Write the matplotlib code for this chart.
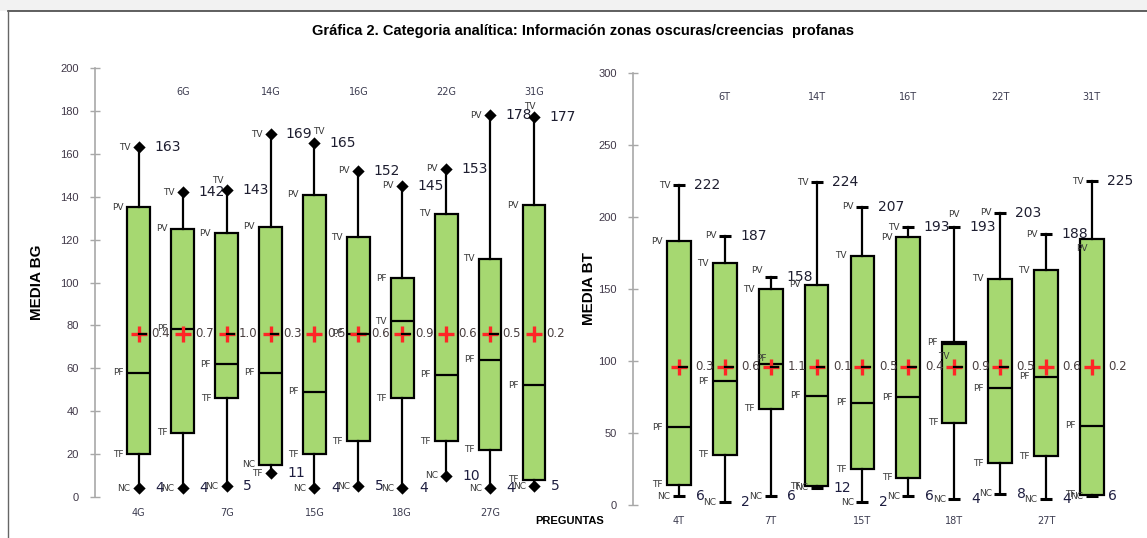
import matplotlib
matplotlib.use('Agg')
import matplotlib.pyplot as plt
from matplotlib.patches import Rectangle
import numpy as np

plt.rcParams['font.family'] = ['Liberation Sans', 'DejaVu Sans']

# ---- data ----
left_cats = ['4G', '6G', '7G', '14G', '15G', '16G', '18G', '22G', '27G', '31G']
left_max = [163, 142, 143, 169, 165, 152, 145, 153, 178, 177]
left_q3 = [135, 125, 123, 126, 141, 121, 102, 132, 111, 136]
left_med = [58, 78.5, 62, 58, 49, 76, 82, 57, 64, 52]
left_q1 = [20, 30, 46, 15, 20, 26, 46, 26, 22, 8]
left_min = [4, 4, 5, 11, 4, 5, 4, 10, 4, 5]
left_mean = [76, 76, 76, 76, 76, 76, 76, 76, 76, 76]
left_ratio = ['0.4', '0.7', '1.0', '0.3', '0.5', '0.6', '0.9', '0.6', '0.5', '0.2']
# tags next to max, q3, median, q1, min
left_tags = [
    ['TV', 'PV', 'PF', 'TF', 'NC'],
    ['TV', 'PV', 'PF', 'TF', 'NC'],
    ['TV', 'PV', 'PF', 'TF', 'NC'],
    ['TV', 'PV', 'PF', 'NC', 'TF'],
    ['TV', 'PV', 'PF', 'TF', 'NC'],
    ['PV', 'TV', 'PF', 'TF', 'NC'],
    ['PV', 'PF', 'TV', 'TF', 'NC'],
    ['PV', 'TV', 'PF', 'TF', 'NC'],
    ['PV', 'TV', 'PF', 'TF', 'NC'],
    ['TV', 'PV', 'PF', 'TF', 'NC'],
]

right_cats = ['4T', '6T', '7T', '14T', '15T', '16T', '18T', '22T', '27T', '31T']
right_max = [222, 187, 158, 224, 207, 193, 193, 203, 188, 225]
right_q3 = [183, 168, 150, 153, 173, 186, 113, 157, 163, 185]
right_med = [54, 86, 98, 76, 71, 75, 112, 81, 89, 55]
right_q1 = [14, 35, 67, 13, 25, 19, 57, 29, 34, 7]
right_min = [6, 2, 6, 12, 2, 6, 4, 8, 4, 6]
right_mean = [96, 96, 96, 96, 96, 96, 96, 96, 96, 96]
right_ratio = ['0.3', '0.6', '1.1', '0.1', '0.5', '0.4', '0.9', '0.5', '0.6', '0.2']
right_tags = [
    ['TV', 'PV', 'PF', 'TF', 'NC'],
    ['PV', 'TV', 'PF', 'TF', 'NC'],
    ['PV', 'TV', 'PF', 'TF', 'NC'],
    ['TV', 'PV', 'PF', 'TF', 'NC'],
    ['PV', 'TV', 'PF', 'TF', 'NC'],
    ['TV', 'PV', 'PF', 'TF', 'NC'],
    ['PV', 'PF', 'TV', 'TF', 'NC'],
    ['PV', 'TV', 'PF', 'TF', 'NC'],
    ['PV', 'TV', 'PF', 'TF', 'NC'],
    ['TV', 'PV', 'PF', 'TF', 'NC'],
]

# layout tweaks for a few tags: (box, stat) -> (dx, dy, ha) in points
left_shift = {(2, 0): (-2, 7, 'right'), (4, 0): (3, 8, 'center'), (9, 0): (-3, 8, 'center')}
right_shift = {(2, 0): (-6, 5, 'right'), (6, 0): (0, 9, 'center'), (6, 2): (-3, -9, 'right'),
               (9, 1): (-3, -7, 'right'), (2, 2): (-3, 4, 'right')}
left_dash = [1, 0, 1, 1, 0, 1, 1, 0, 1, 0]
right_dash = [1, 1, 1, 1, 1, 1, 1, 1, 0, 0]

GREEN = '#a6d871'
TAG = '#3a3a3a'
TICK = '#403848'


def draw_panel(ax, cats, vmax, q3, med, q1, vmin, mean, ratio, tags,
               shift, dash, cap, cap_ms, top_y, val_dx):
    n = len(cats)
    x = np.arange(1, n + 1)
    w = 0.52
    stats = [dict(med=med[i], q1=q1[i], q3=q3[i], whislo=vmin[i], whishi=vmax[i],
                  mean=mean[i], fliers=[]) for i in range(n)]
    ax.bxp(stats, positions=x, widths=w, patch_artist=True, showmeans=True,
           showcaps=False, showfliers=False,
           boxprops=dict(facecolor=GREEN, edgecolor='k', lw=1.6),
           medianprops=dict(color='k', lw=1.6),
           whiskerprops=dict(color='k', lw=1.6),
           meanprops=dict(marker='+', markeredgecolor='#ff2626', markersize=11,
                          markeredgewidth=2.4))
    ax.plot(x, vmax, ls='none', marker=cap, color='k', ms=cap_ms, mew=2.2, zorder=5)
    ax.plot(x, vmin, ls='none', marker=cap, color='k', ms=cap_ms, mew=2.2, zorder=5)
    for i in range(n):
        if dash[i]:
            ax.plot([x[i], x[i] + 0.17], [mean[i], mean[i]], color='k', lw=1.6, zorder=6)
        # max / min numbers
        ax.annotate(str(vmax[i]), (x[i], vmax[i]), xytext=(11, 0), textcoords='offset points',
                    ha='left', va='center', fontsize=10, color='#1e1e30',
                    family=['DejaVu Sans'])
        ax.annotate(str(vmin[i]), (x[i], vmin[i]), xytext=(12, 0), textcoords='offset points',
                    ha='left', va='center', fontsize=10, color='#1e1e40',
                    family=['DejaVu Sans'])
        ax.annotate(ratio[i], (x[i], mean[i]), xytext=(val_dx, 0), textcoords='offset points',
                    ha='left', va='center', fontsize=8.5, color='#4a4040',
                    family=['DejaVu Sans'])
        # letter tags
        vals = [vmax[i], q3[i], med[i], q1[i], vmin[i]]
        for k in range(5):
            if k in (0, 4):
                ax_x, dx = x[i], -6
            else:
                ax_x, dx = x[i] - w / 2, -3
            dy, ha = 0, 'right'
            if (i, k) in shift:
                sdx, dy, ha = shift[(i, k)]
                ax_x, dx = x[i], sdx
            ax.annotate(tags[i][k], (ax_x, vals[k]), xytext=(dx, dy),
                        textcoords='offset points', ha=ha, va='center',
                        fontsize=6.5, color=TAG, family=['DejaVu Sans'])
    # category labels: odd ones below, even ones on top
    ax.set_xticks(x[::2])
    ax.set_xticklabels(cats[::2], fontsize=7, color='#3c3c50', family=['DejaVu Sans'])
    ax.tick_params(axis='x', length=0, pad=8)
    for i in range(1, n, 2):
        ax.text(x[i], top_y, cats[i], ha='center', va='center', fontsize=7,
                color='#3c3c50', family=['DejaVu Sans'])
    for s in ('top', 'right', 'bottom'):
        ax.spines[s].set_visible(False)
    ax.spines['left'].set_color('#a8a8a8')
    ax.spines['left'].set_linewidth(1.2)
    ax.tick_params(axis='y', direction='inout', length=7, width=1, color='#a8a8a8',
                   labelsize=8, labelcolor=TICK, pad=8)


fig = plt.figure(figsize=(11.47, 5.38), dpi=100)

ax1 = fig.add_axes([0.0828, 0.0762, 0.421, 0.7974])
draw_panel(ax1, left_cats, left_max, left_q3, left_med, left_q1, left_min, left_mean,
           left_ratio, left_tags, left_shift, left_dash, 'D', 4, 189, 9)
ax1.set_ylim(0, 200)
ax1.set_yticks(np.arange(0, 201, 20))
ax1.set_xlim(0, 11)
ax1.set_ylabel('MEDIA BG', fontsize=11, fontweight='bold', labelpad=12)

ax2 = fig.add_axes([0.5519, 0.0613, 0.436, 0.803])
draw_panel(ax2, right_cats, right_max, right_q3, right_med, right_q1, right_min, right_mean,
           right_ratio, right_tags, right_shift, right_dash, '_', 8, 283, 12)
ax2.set_ylim(0, 300)
ax2.set_yticks(np.arange(0, 301, 50))
ax2.set_xlim(0, 10.9)
ax2.set_ylabel('MEDIA BT', fontsize=11, fontweight='bold', labelpad=2)

fig.text(0.508, 0.942, 'Gráfica 2. Categoria analítica: Información zonas oscuras/creencias  profanas',
         ha='center', va='center', fontsize=10.5, fontweight='bold')
fig.text(0.497, 0.031, 'PREGUNTAS', ha='center', va='center', fontsize=8,
         fontweight='bold')

# frame around the figure
fig.patches.append(Rectangle((0, 0.98), 1, 0.02, transform=fig.transFigure,
                             facecolor='#f2f2f2', edgecolor='none', zorder=0))
fig.lines.append(plt.Line2D([0.007, 1], [0.979, 0.979], transform=fig.transFigure,
                            color='#444444', lw=1.2))
fig.lines.append(plt.Line2D([0.007, 0.007], [0, 0.979], transform=fig.transFigure,
                            color='#666666', lw=1))

fig.savefig('out.png', dpi=100)
